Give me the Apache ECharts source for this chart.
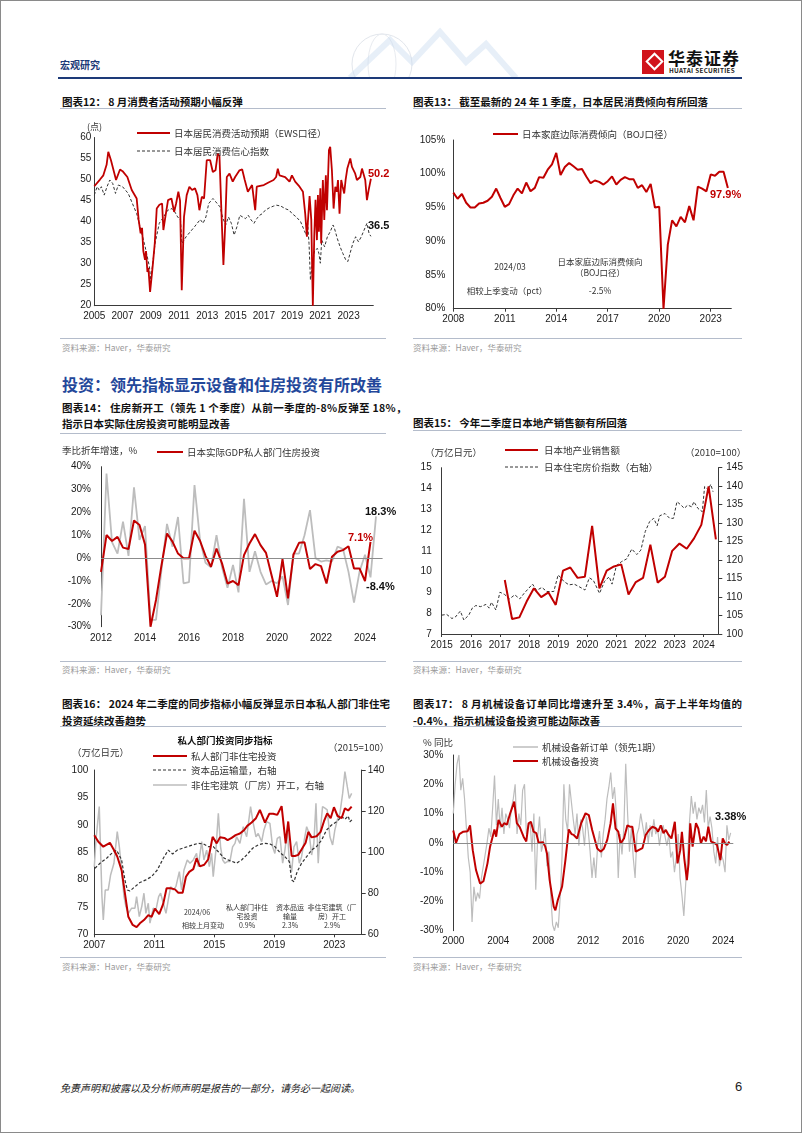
<!DOCTYPE html>
<html lang="zh">
<head>
<meta charset="utf-8">
<title>宏观研究</title>
<script src="https://cdn.jsdelivr.net/npm/echarts@6.0.0/dist/echarts.min.js"></script>
<style>
  html, body { margin: 0; padding: 0; background: #fff; }
  #page { position: relative; width: 802px; height: 1133px; overflow: hidden; font-family: "Noto Sans CJK SC", sans-serif; }
  #frame { position: absolute; left: 0; top: 0; width: 800px; height: 1131px; border: 1px solid #8a8a8a; }
  #chart { position: absolute; left: 0; top: 0; width: 802px; height: 1133px; }
  .txt { position: absolute; white-space: nowrap; }
  .ttl { position: absolute; font-size: 10.5px; font-weight: 700; color: #111; line-height: 14px; white-space: nowrap; }
  .jst { white-space: normal; text-align: justify; text-align-last: justify; }
  .rule { position: absolute; height: 1px; background: #b4bccb; }
  .src { position: absolute; font-size: 8.5px; color: #9a9a9a; line-height: 12px; white-space: nowrap; }
</style>
</head>
<body>
<div id="page">
  <div id="frame"></div>

  <!-- 页眉 -->
  <svg style="position:absolute;left:290px;top:22px" width="230" height="56">
    <circle cx="92" cy="42" r="30" fill="none" stroke="#e2e6ec" stroke-width="1"/>
    <ellipse cx="92" cy="42" rx="14" ry="30" fill="none" stroke="#e8ebf0" stroke-width="1"/>
    <polyline points="60,56 100,18 122,40 150,10 176,40 196,22 226,56" fill="none" stroke="#c9dbf0" stroke-width="6" opacity="0.45"/>
  </svg>
  <div class="txt" style="left:60px;top:58px;font-size:10px;font-weight:700;color:#1d3a78;line-height:14px">宏观研究</div>
  <div style="position:absolute;left:58px;top:77px;width:684px;height:2px;background:#1d3a78"></div>
  <div style="position:absolute;left:642px;top:50px;width:22px;height:24px;background:#d1131b"></div>
  <div style="position:absolute;left:648px;top:55px;width:9px;height:9px;border:2px solid #fff;transform:rotate(45deg)"></div>
  <div class="txt" style="left:668px;top:48px;font-size:17px;font-weight:700;color:#111;line-height:20px;letter-spacing:1px">华泰证券</div>
  <div class="txt" style="left:669px;top:67px;font-size:6.3px;font-weight:700;color:#222;line-height:8px;letter-spacing:0.3px">HUATAI SECURITIES</div>

  <!-- 图表标题 -->
  <div class="ttl" style="left:62px;top:94.5px">图表12： 8 月消费者活动预期小幅反弹</div>
  <div class="rule" style="left:60px;top:108px;width:326px"></div>
  <div class="ttl" style="left:413px;top:94.5px">图表13： 截至最新的 24 年 1 季度，日本居民消费倾向有所回落</div>
  <div class="rule" style="left:413px;top:108px;width:329px"></div>
  <div class="rule" style="left:60px;top:338px;width:326px"></div>
  <div class="src" style="left:62px;top:341px">资料来源：Haver，华泰研究</div>
  <div class="rule" style="left:413px;top:338px;width:329px"></div>
  <div class="src" style="left:413px;top:341px">资料来源：Haver，华泰研究</div>

  <div class="txt" style="left:62px;top:374px;font-size:16px;font-weight:700;color:#23479a;line-height:20px">投资：领先指标显示设备和住房投资有所改善</div>

  <div class="ttl" style="left:62px;top:401px;letter-spacing:0.3px">图表14： 住房新开工（领先 1 个季度）从前一季度的-8%反弹至 18%，</div>
  <div class="ttl" style="left:62px;top:417px">指示日本实际住房投资可能明显改善</div>
  <div class="rule" style="left:60px;top:433px;width:326px"></div>
  <div class="ttl" style="left:413px;top:416px">图表15： 今年二季度日本地产销售额有所回落</div>
  <div class="rule" style="left:413px;top:430px;width:329px"></div>
  <div class="rule" style="left:60px;top:661px;width:326px"></div>
  <div class="src" style="left:62px;top:663px">资料来源：Haver，华泰研究</div>
  <div class="rule" style="left:413px;top:661px;width:329px"></div>
  <div class="src" style="left:413px;top:663px">资料来源：Haver，华泰研究</div>

  <div class="ttl jst" style="left:62px;top:697px;width:328px">图表16： 2024 年二季度的同步指标小幅反弹显示日本私人部门非住宅</div>
  <div class="ttl" style="left:62px;top:714px">投资延续改善趋势</div>
  <div class="rule" style="left:60px;top:726px;width:326px"></div>
  <div class="ttl jst" style="left:413px;top:697px;width:329px">图表17： 8 月机械设备订单同比增速升至 3.4%，高于上半年均值的</div>
  <div class="ttl" style="left:413px;top:714px">-0.4%，指示机械设备投资可能边际改善</div>
  <div class="rule" style="left:413px;top:726px;width:329px"></div>
  <div class="rule" style="left:60px;top:956.5px;width:326px"></div>
  <div class="src" style="left:62px;top:960px">资料来源：Haver，华泰研究</div>
  <div class="rule" style="left:413px;top:956.5px;width:329px"></div>
  <div class="src" style="left:413px;top:960px">资料来源：Haver，华泰研究</div>

  <!-- 页脚 -->
  <div class="txt" style="left:60px;top:1081px;font-size:10px;font-style:italic;color:#222;line-height:14px">免责声明和披露以及分析师声明是报告的一部分，请务必一起阅读。</div>
  <div class="txt" style="left:735px;top:1079px;font-size:13px;color:#222;line-height:16px;font-family:'Liberation Sans',Arial,sans-serif">6</div>

  <div id="chart"></div>
</div>

<script>
// ---- 图表12：消费者活动预期 ----
const c12Years = [2005, 2007, 2009, 2011, 2013, 2015, 2017, 2019, 2021, 2023];
const ewsOutlook = [[2005.0,48.4],[2005.4,50.0],[2005.64,51],[2005.87,53.5],[2005.99,56.6],[2006.18,54.6],[2006.54,49.9],[2006.82,52.4],[2007.0,52.0],[2007.34,50.6],[2007.65,47.5],[2008.0,45.5],[2008.14,40.4],[2008.28,37.2],[2008.38,38.5],[2008.47,33],[2008.59,30.9],[2008.66,33],[2008.76,28],[2008.83,29],[2008.95,23.3],[2009.13,29.3],[2009.28,34.8],[2009.42,43.1],[2009.61,44],[2009.8,44.3],[2009.89,38],[2010.03,41.1],[2010.22,45.1],[2010.46,45.5],[2010.65,42.3],[2010.79,44.3],[2010.95,47.1],[2011.07,45],[2011.19,23.7],[2011.35,41.1],[2011.54,46.3],[2011.73,48.3],[2011.92,47.5],[2012.13,47.9],[2012.3,46.3],[2012.44,42.7],[2012.61,45.9],[2012.77,45.5],[2012.96,54.6],[2013.2,54.6],[2013.39,51.8],[2013.58,52.2],[2013.74,56.2],[2013.86,55.6],[2014.02,40.4],[2014.14,29.7],[2014.26,38.8],[2014.38,50.6],[2014.57,51.4],[2014.8,49.5],[2014.97,50.6],[2015.28,52.2],[2015.47,52.4],[2015.65,49.9],[2015.87,47.1],[2016.17,48.7],[2016.39,42.7],[2016.5,48.3],[2016.74,48.5],[2017.0,48.7],[2017.33,49.3],[2017.69,49.9],[2017.87,50.6],[2017.99,52.6],[2018.11,51],[2018.51,50.6],[2018.82,49.5],[2018.99,51],[2019.22,49.5],[2019.53,48.3],[2019.77,47.1],[2019.93,41.9],[2020.05,36.4],[2020.24,46.1],[2020.36,40.4],[2020.47,20],[2020.57,36.4],[2020.66,45.2],[2020.76,35.6],[2020.83,46.3],[2020.9,37.6],[2021.0,47.9],[2021.06,34.8],[2021.18,49.9],[2021.28,40.4],[2021.39,51],[2021.47,42.7],[2021.61,57],[2021.7,57.8],[2021.82,52.2],[2021.94,43.1],[2022.06,48.3],[2022.17,47.1],[2022.25,49.9],[2022.36,41.9],[2022.48,49.9],[2022.58,48.3],[2022.69,46.7],[2022.79,49.9],[2022.91,52.6],[2023.12,55],[2023.24,53],[2023.36,52.6],[2023.47,51.4],[2023.59,49.9],[2023.71,50.3],[2023.83,50.6],[2023.95,52.6],[2024.06,52.6],[2024.18,49.9],[2024.3,45.1],[2024.42,47.5],[2024.58,50.2]];
const consumerConf = [[2005.0,46.3],[2005.2,48.3],[2005.35,47.5],[2005.5,48.3],[2005.7,46.3],[2005.9,48.3],[2006.1,49.9],[2006.3,49.1],[2006.5,46.7],[2006.7,48.7],[2007.0,48.3],[2007.2,47.5],[2007.4,46.7],[2007.7,44.3],[2008.0,41.9],[2008.3,38],[2008.6,34],[2008.9,29.3],[2009.0,26.1],[2009.3,34.8],[2009.6,39.6],[2009.9,41.1],[2010.2,42.7],[2010.5,43.1],[2010.7,42.3],[2010.9,41.1],[2011.1,40.4],[2011.2,34.8],[2011.5,36.4],[2011.8,37.6],[2012.1,38.8],[2012.5,40.5],[2012.7,39.6],[2012.9,41.1],[2013.1,44.3],[2013.4,45.5],[2013.6,44.7],[2013.9,43.5],[2014.1,40.8],[2014.3,39.2],[2014.5,41.1],[2014.7,39.6],[2014.9,36.8],[2015.1,38.8],[2015.3,41.5],[2015.5,41.1],[2015.7,40.7],[2015.9,41.5],[2016.1,40.4],[2016.3,39.6],[2016.5,40.7],[2016.7,41.5],[2016.9,41.9],[2017.1,42.7],[2017.4,43.3],[2017.7,43.7],[2017.9,43.9],[2018.2,43.7],[2018.5,43.1],[2018.8,42.7],[2019.0,41.9],[2019.3,41.1],[2019.6,40],[2019.8,38.4],[2020.0,36.8],[2020.1,39.6],[2020.2,34.8],[2020.3,26.1],[2020.4,29.3],[2020.6,33.2],[2020.8,33.6],[2020.9,32.4],[2021.0,30.1],[2021.1,35.6],[2021.3,34],[2021.5,36.4],[2021.7,37.6],[2021.9,39.2],[2022.0,38.4],[2022.2,36],[2022.4,34],[2022.6,32.4],[2022.8,30.9],[2022.95,30.5],[2023.1,32.4],[2023.3,34.8],[2023.5,36.4],[2023.7,35.2],[2023.9,36.4],[2024.1,38],[2024.3,39.6],[2024.45,37.2],[2024.58,36.5]];

// ---- 图表13：家庭边际消费倾向（季度） ----
const c13Years = [2008, 2011, 2014, 2017, 2020, 2023];
const mpcStart = 2008;
const mpcQuarterly = [97.2,96.3,97.0,95.7,95.0,95.0,95.6,95.7,96.0,96.6,97.8,96.4,95.1,95.5,96.8,97.8,97.1,98.7,97.4,97.9,99.5,99.4,100.6,101.4,103.1,99.8,101.0,101.6,101.1,100.6,100.7,99.6,98.6,99.0,98.8,98.4,98.9,99.6,98.4,99.1,99.5,99.2,99.2,97.9,98.3,97.3,98.5,95.0,95.1,80.0,89.5,93.1,92.2,93.6,92.8,95.2,93.1,98.1,97.8,97.4,99.9,99.7,100.3,100.3,97.9];

// ---- 图表14：住房投资与新开工（季度） ----
const c14Years = [2012, 2014, 2016, 2018, 2020, 2022, 2024];
const resStart = 2012;
const resInvQuarterly = [-6.0,10.1,7.5,9.3,4.6,4.0,16.5,14.5,6.0,-30,-18.3,-3.1,10.8,7.2,2.0,-0.1,-0.1,12.0,7.6,1.0,-3.8,4.2,-2.3,-11.1,-10.0,-11.8,1.3,6.4,10.5,5.7,2.3,-7.4,-16.9,-0.4,-17.6,1.6,6.7,6.9,-4.8,-2.6,-3.5,-11.1,0.6,2.8,3.5,5.2,-4.5,-4.5,-10.0,7.1];
const startsQuarterly = [-25,37,7,2,16,1,31,8,14,-27,-27,-5,15,5,18,-11,-10.5,32,8,-2,-4,10,-4,-13,-3,-15,26,-6,3,-6,-11.5,-10,-11,-8,-20.5,2,2,10,21,0,-1.5,-1,-1.5,5,4,-6,-19.5,-6,1.5,-8.4,18.3];

// ---- 图表15：地产销售额与房价指数 ----
const c15Years = [2015, 2016, 2017, 2018, 2019, 2020, 2021, 2022, 2023, 2024];
const salesStart = 2017 + 2 / 12;
const salesQuarterly = [9.6,7.72,7.8,8.56,9.2,8.77,9.0,8.4,10.05,10.2,9.7,9.75,12.2,9.2,10.05,10.25,10.35,8.9,9.5,9.7,11.3,9.47,9.75,11.0,11.35,11.1,11.6,12.25,14.1,11.55];
const housePrice = [[2015.0,105.1],[2015.17,105.3],[2015.35,104.2],[2015.47,104.6],[2015.64,106.2],[2015.76,103.8],[2015.93,105.1],[2016.05,107],[2016.17,107.7],[2016.34,107.4],[2016.52,108],[2016.63,107],[2016.71,108.6],[2016.86,106.5],[2017.0,111.3],[2017.16,110.7],[2017.33,109.5],[2017.51,110.6],[2017.68,109.5],[2017.83,111],[2017.97,112.2],[2018.12,113.5],[2018.26,111.8],[2018.44,112.6],[2018.61,111.5],[2018.85,111.5],[2019.0,116],[2019.2,114.2],[2019.37,113.3],[2019.55,113.5],[2019.72,112.8],[2019.92,111.9],[2020.07,115.2],[2020.21,114.5],[2020.42,111],[2020.59,114.2],[2020.75,115.5],[2020.85,113.5],[2021.0,118.5],[2021.18,119.6],[2021.35,120.3],[2021.53,123],[2021.7,121.5],[2021.84,122.7],[2021.99,127.7],[2022.14,130.4],[2022.28,131.3],[2022.4,129.3],[2022.49,132],[2022.67,132.6],[2022.83,131.3],[2022.96,131.3],[2023.08,135.8],[2023.22,134.9],[2023.33,134],[2023.45,134.9],[2023.59,134.4],[2023.66,135.8],[2023.8,134],[2023.95,133.1],[2024.03,139.9],[2024.15,139],[2024.24,140.5],[2024.32,138.5]];

// ---- 图表16：私人部门投资同步指标 ----
const c16Years = [2007, 2011, 2015, 2019, 2023];
const nonResInv = [[2007.0,88.1],[2007.27,86.9],[2007.6,86.0],[2008.04,86.7],[2008.31,85.4],[2008.53,84.2],[2008.82,81.7],[2009.04,77.5],[2009.27,73.2],[2009.56,71.7],[2009.82,71.3],[2010.04,72.0],[2010.31,72.6],[2010.6,73.5],[2010.82,73.2],[2011.04,74.7],[2011.33,73.7],[2011.6,75.6],[2011.82,78.4],[2012.09,78.4],[2012.38,78.2],[2012.6,77.6],[2012.89,77.6],[2013.11,80.5],[2013.33,81.4],[2013.6,81.9],[2013.82,83.9],[2014.04,82.4],[2014.33,82.7],[2014.6,83.7],[2014.89,87.8],[2015.16,86.6],[2015.38,87.7],[2015.67,87.6],[2015.89,87.2],[2016.16,87.6],[2016.42,88.1],[2016.71,88.4],[2016.98,89.0],[2017.2,89.8],[2017.49,90.4],[2017.78,91.2],[2018.04,92.7],[2018.38,90.4],[2018.67,92.0],[2018.93,92.0],[2019.2,91.8],[2019.49,93.4],[2019.76,86.6],[2019.93,90.6],[2020.16,84.3],[2020.38,84.3],[2020.6,84.5],[2020.82,85.5],[2021.09,86.7],[2021.27,88.7],[2021.49,87.7],[2021.82,87.9],[2022.09,88.7],[2022.31,90.6],[2022.53,92.1],[2022.76,91.2],[2022.98,93.2],[2023.22,91.6],[2023.49,91.2],[2023.71,93.0],[2023.93,92.6],[2024.16,93.3]];
const capGoods = [[2007.04,92.1],[2007.38,94.6],[2007.82,97],[2008.16,99.4],[2008.49,101],[2008.82,96.2],[2009.04,86.5],[2009.2,81.6],[2009.38,81.1],[2009.71,83.2],[2010.04,85.2],[2010.44,86.5],[2010.82,88.1],[2011.2,91.3],[2011.6,97],[2011.93,101],[2012.22,99.1],[2012.53,101],[2012.89,101.9],[2013.22,102.7],[2013.56,103.5],[2013.93,104.3],[2014.27,104],[2014.6,102.7],[2014.93,102.7],[2015.27,100.2],[2015.67,97],[2016.04,95.9],[2016.49,94.6],[2016.82,96.2],[2017.16,98.6],[2017.56,101.9],[2017.93,103.5],[2018.31,104.3],[2018.71,104],[2019.04,102.7],[2019.38,99.8],[2019.71,97.8],[2020.0,95.4],[2020.16,86.5],[2020.31,85.6],[2020.53,90.5],[2020.82,94.6],[2021.16,97.8],[2021.49,101],[2021.82,102.7],[2022.16,105.9],[2022.49,110.8],[2022.82,113.2],[2023.16,114.8],[2023.49,117.3],[2023.71,116],[2023.93,117.6],[2024.04,114.8],[2024.22,116]];
const factoryStarts = [[2007.0,92.9],[2007.11,105.9],[2007.33,122.2],[2007.51,78.3],[2007.6,67],[2007.73,81.6],[2007.93,81.6],[2008.09,89],[2008.31,94.6],[2008.53,110],[2008.67,102.6],[2008.82,91.3],[2008.98,78.3],[2009.11,73.4],[2009.27,70.2],[2009.49,72.7],[2009.71,72.7],[2009.82,78.3],[2010.0,68.6],[2010.16,73.4],[2010.31,80],[2010.44,70.2],[2010.6,75.1],[2010.71,65.4],[2010.93,72.7],[2011.11,71.9],[2011.29,78.3],[2011.42,80],[2011.6,75.1],[2011.78,70.2],[2011.93,76.7],[2012.09,83.2],[2012.27,81.6],[2012.44,83.2],[2012.67,90.5],[2012.82,81.6],[2012.98,91.3],[2013.2,96.2],[2013.38,94.6],[2013.6,96.2],[2013.82,99.4],[2013.93,92.9],[2014.16,105.1],[2014.31,96.2],[2014.49,101],[2014.67,92.9],[2014.82,99.4],[2014.93,88.1],[2015.11,101],[2015.27,118.9],[2015.42,102.6],[2015.56,96.2],[2015.71,94.6],[2015.87,95.4],[2016.04,95.4],[2016.22,102.6],[2016.38,104.3],[2016.49,107.5],[2016.71,104.3],[2016.93,112.4],[2017.16,107.5],[2017.42,122.2],[2017.6,114],[2017.78,107.5],[2017.93,109.1],[2018.16,105.1],[2018.31,110.8],[2018.49,114.8],[2018.71,114],[2018.89,102.6],[2019.04,99.4],[2019.2,106.7],[2019.38,107.5],[2019.56,94.6],[2019.71,101],[2019.87,110.8],[2020.0,96.2],[2020.16,90.5],[2020.31,102.6],[2020.49,105.1],[2020.67,94.6],[2020.82,97.8],[2021.0,105.9],[2021.16,112.4],[2021.33,109.1],[2021.49,98.6],[2021.64,104.3],[2021.78,123.8],[2021.93,94.6],[2022.04,107.5],[2022.22,122.2],[2022.38,121.4],[2022.53,120.6],[2022.71,107.5],[2022.89,103.5],[2023.04,110.8],[2023.2,115.7],[2023.38,119],[2023.56,128.6],[2023.71,139.2],[2023.87,131.9],[2024.0,126.2],[2024.16,128.6]];

// ---- 图表17：机械设备订单与投资 ----
const c17Years = [2000, 2004, 2008, 2012, 2016, 2020, 2024];
const ordersStart = 2000;
const ordersBimonthly = [
  10, 20, 27, 30, 18, 22,   15, 5, -5, -10, -27, -15,   -20, -17, -19, -12, -8, -4,
  0, 5, 2, 12, 23, 6,       15, 5, 12, 3, 10, 8,        5, 12, 15, 20, 3, 10,
  6, 18, 20, 3, 6, 7,       -3, 10, -16, 2, 9, -3,      0, 5, -8, -3, -18, -28,
  -30, -27, -29, -19, -5, 20,  8, 4, 20, 14, 8, 3,      10, -1, 8, 5, -1, 9,
  4, -3, -12, -5, -12, -1,  4, -5, 3, 8, 15, 19,        24, 15, 19, 10, -12, 3,
  -4, 5, 27, 10, -3, 5,     -5, -12, 3, 5, 10, 6,       2, 7, 0, 6, 2, 8,
  3, 5, -1, 4, 6, 2,        -1, 3, -5, -3, -10, -5,     3, -12, -18, -25, -14, -5,
  7, 16, 10, 14, 8, 12,     10, 13, 7, 18, 5, 9,        5, -3, -7, 2, -8, -4,
  -6, -10, 6, 1, 3.38
];
const machineryInv = [[2000.0,4.2],[2000.24,0],[2000.54,3],[2000.89,3.8],[2001.28,4.0],[2001.49,6.0],[2001.73,-2.5],[2002.02,-9.3],[2002.38,-13.9],[2002.68,-13.1],[2003.04,-7.0],[2003.27,-1.3],[2003.66,4.6],[2003.81,2.1],[2004.02,7.8],[2004.32,5.5],[2004.52,6.7],[2004.76,6.2],[2005.06,10.1],[2005.42,14.1],[2005.65,6.7],[2005.89,5.5],[2006.25,2.1],[2006.49,0.5],[2006.7,6.7],[2006.9,7.2],[2007.14,3.8],[2007.38,3.3],[2007.59,0],[2007.98,0.2],[2008.18,-1.3],[2008.33,-3.6],[2008.57,-12.7],[2008.93,-21.8],[2009.08,-23],[2009.29,-19.6],[2009.67,-15],[2009.97,-5.9],[2010.27,4.6],[2010.51,3.0],[2010.71,2.7],[2011.01,1.5],[2011.37,6.7],[2011.76,10.1],[2012.05,9.5],[2012.35,4.4],[2012.8,-1.9],[2013.1,-3.0],[2013.39,-2.0],[2013.69,1.0],[2013.99,6.7],[2014.2,13.5],[2014.43,4.9],[2014.67,3.8],[2014.88,-0.2],[2015.18,1.5],[2015.48,6.0],[2015.71,5.5],[2015.92,5.5],[2016.22,-3.0],[2016.52,-2.4],[2016.82,-1.8],[2017.11,2.7],[2017.41,4.4],[2017.71,5.5],[2018.01,5.0],[2018.21,3.8],[2018.45,6.0],[2018.69,3.3],[2018.9,4.4],[2019.14,2.7],[2019.4,1.5],[2019.7,7.2],[2019.94,-7.0],[2020.18,-2.5],[2020.33,3.8],[2020.54,-5.3],[2020.77,-12.7],[2020.92,-7],[2021.07,6.7],[2021.28,-1.3],[2021.43,-1.0],[2021.58,6.7],[2021.79,4.9],[2022.02,-0.2],[2022.26,2.1],[2022.47,0.5],[2022.68,5.5],[2022.92,0.4],[2023.21,0],[2023.45,-0.7],[2023.75,-5.9],[2023.96,1.5],[2024.17,-0.2],[2024.35,-0.7],[2024.55,0.4]];

// 季度/双月序列按起点和步长排成 [年份, 数值]
const stepped = (start, step, vals) => vals.map((v, i) => [start + i * step, v]);

const RED = '#c00000';
const GREY = '#bdbdbd';
const AXIS = '#3a3a3a';
const LBL = '#1a1a1a';
const CN = '"Noto Sans CJK SC", sans-serif';
const NUM = '"Liberation Sans", Arial, sans-serif';

function xAx(grid, min, max, years, opts = {}) {
  return {
    type: 'value', gridIndex: grid, min: min, max: max,
    axisLine: { show: opts.line !== false, onZero: false, lineStyle: { color: AXIS, width: 1 } },
    axisTick: { show: !!opts.ticks, customValues: years, length: 3, inside: false, lineStyle: { color: AXIS } },
    axisLabel: { customValues: years, formatter: v => String(Math.round(v)), color: LBL, fontSize: 10, fontFamily: NUM, margin: opts.margin || 6 },
    splitLine: { show: false }
  };
}

function yAx(grid, min, max, interval, opts = {}) {
  return {
    type: 'value', gridIndex: grid, min: min, max: max, interval: interval,
    position: opts.right ? 'right' : 'left',
    axisLine: { show: true, onZero: false, lineStyle: { color: AXIS, width: 1 } },
    axisTick: { show: !!opts.ticks, length: 4, lineStyle: { color: AXIS } },
    axisLabel: { color: LBL, fontSize: 10, fontFamily: NUM, margin: opts.margin || 8, formatter: opts.pct ? (v => v + '%') : (v => String(v)) },
    splitLine: { show: false }
  };
}

function line(xi, yi, data, color, width, dash, extra) {
  return Object.assign({
    type: 'line', xAxisIndex: xi, yAxisIndex: yi, data: data,
    symbol: 'none', showSymbol: false, silent: true, animation: false,
    lineStyle: { color: color, width: width, type: dash || 'solid' },
    itemStyle: { color: color }
  }, extra || {});
}

const zeroLine = {
  markLine: {
    silent: true, symbol: ['none', 'none'], label: { show: false }, animation: false,
    lineStyle: { color: '#8c8c8c', width: 1, type: 'solid' },
    data: [{ yAxis: 0 }]
  }
};

// 图形文字与图例
function txt(x, y, text, o) {
  o = o || {};
  const align = o.align || 'left';
  return {
    type: 'text', x: x, y: y, silent: true, z: 100,
    style: {
      text: text, font: o.font || ('9.5px ' + CN), fill: o.color || '#333',
      align: align, verticalAlign: 'middle', textAlign: align, textVerticalAlign: 'middle'
    }
  };
}
function seg(x1, x2, y, color, width, dash) {
  return {
    type: 'line', silent: true, z: 100,
    shape: { x1: x1, y1: y, x2: x2, y2: y },
    style: { stroke: color, lineWidth: width, lineDash: dash || null }
  };
}
const BOLD = 'bold 11px ' + NUM;
const TINY = '7px ' + CN;

const graphics = [
  // 图表12
  txt(94.5, 127, '(点)', { align: 'center', font: '9px ' + CN }),
  seg(137, 170, 133, RED, 2), txt(174, 133, '日本居民消费活动预期（EWS口径）'),
  seg(137, 170, 151, '#333', 1, [3, 2]), txt(174, 151, '日本居民消费信心指数'),
  txt(368, 174, '50.2', { font: BOLD, color: RED }),
  txt(368, 226, '36.5', { font: BOLD, color: '#111' }),
  // 图表13
  seg(493, 518, 134, RED, 2), txt(522, 134, '日本家庭边际消费倾向（BOJ口径）'),
  txt(710, 195, '97.9%', { font: BOLD, color: RED }),
  txt(510, 267, '2024/03', { align: 'center', font: '8.5px ' + CN }),
  txt(600, 262, '日本家庭边际消费倾向', { align: 'center', font: '8.5px ' + CN }),
  txt(600, 273, '（BOJ口径）', { align: 'center', font: '8.5px ' + CN }),
  txt(507, 291, '相较上季变动（pct）', { align: 'center', font: '8.5px ' + CN }),
  txt(600, 291, '-2.5%', { align: 'center', font: '8.5px ' + CN }),
  // 图表14
  txt(62, 450, '季比折年增速，%'),
  seg(157, 183, 452, RED, 2), txt(187, 452, '日本实际GDP私人部门住房投资'),
  txt(365, 512, '18.3%', { font: BOLD, color: '#111' }),
  txt(348, 538, '7.1%', { font: BOLD, color: RED }),
  txt(366, 587, '-8.4%', { font: BOLD, color: '#111' }),
  // 图表15
  txt(425, 452, '（万亿日元）'),
  txt(685, 452, '（2010=100）'),
  seg(505, 538, 450, RED, 2), txt(544, 450, '日本地产业销售额'),
  seg(505, 538, 467, '#333', 1, [3, 2]), txt(544, 467, '日本住宅房价指数（右轴）'),
  // 图表16
  txt(225, 740, '私人部门投资同步指标', { align: 'center', font: 'bold 9.5px ' + CN, color: '#111' }),
  txt(72, 752, '（万亿日元）'),
  txt(328, 747, '（2015=100）'),
  seg(153, 187, 756, RED, 2), txt(191, 756, '私人部门非住宅投资'),
  seg(153, 187, 770, '#333', 1.2, [3, 2]), txt(191, 770, '资本品运输量，右轴'),
  seg(153, 187, 785, GREY, 1.5), txt(191, 785, '非住宅建筑（厂房）开工，右轴'),
  txt(197, 912, '2024/06', { align: 'center', font: TINY }),
  txt(203, 925, '相较上月变动', { align: 'center', font: TINY }),
  txt(247, 907, '私人部门非住', { align: 'center', font: TINY }),
  txt(247, 916, '宅投资', { align: 'center', font: TINY }),
  txt(247, 925, '0.9%', { align: 'center', font: TINY }),
  txt(290, 907, '资本品运', { align: 'center', font: TINY }),
  txt(290, 916, '输量', { align: 'center', font: TINY }),
  txt(290, 925, '2.3%', { align: 'center', font: TINY }),
  txt(332, 907, '非住宅建筑（厂', { align: 'center', font: TINY }),
  txt(332, 916, '房）开工', { align: 'center', font: TINY }),
  txt(332, 925, '2.9%', { align: 'center', font: TINY }),
  // 图表17
  txt(423, 742, '% 同比'),
  seg(513, 538, 747, GREY, 1.5), txt(542, 747, '机械设备新订单（领先1期）'),
  seg(513, 538, 761, RED, 2), txt(542, 761, '机械设备投资'),
  txt(715, 817, '3.38%', { font: BOLD, color: '#111' })
];

const chart = echarts.init(document.getElementById('chart'), null, { renderer: 'canvas' });

chart.setOption({
  animation: false,
  backgroundColor: 'transparent',
  textStyle: { fontFamily: NUM },
  grid: [
    { left: 94.3, top: 137.5, width: 279, height: 168.2, outerBoundsMode: 'none' },
    { left: 453.3, top: 140, width: 278, height: 168.7, outerBoundsMode: 'none' },
    { left: 101, top: 466.7, width: 281.6, height: 160, outerBoundsMode: 'none' },
    { left: 441.7, top: 467.7, width: 276.6, height: 166.3, outerBoundsMode: 'none' },
    { left: 94.3, top: 770, width: 267.4, height: 164.3, outerBoundsMode: 'none' },
    { left: 453.3, top: 755, width: 280, height: 175.7, outerBoundsMode: 'none' }
  ],
  xAxis: [
    xAx(0, 2005, 2024.75, c12Years, { margin: 6 }),
    xAx(1, 2008, 2024.2, c13Years, { ticks: true, margin: 6 }),
    xAx(2, 2012, 2024.8, c14Years, { line: false, margin: 7 }),
    xAx(3, 2015, 2024.5, c15Years, { ticks: true, margin: 6 }),
    xAx(4, 2007, 2024.83, c16Years, { ticks: true, margin: 6 }),
    xAx(5, 2000, 2024.9, c17Years, { line: false, margin: 6 })
  ],
  yAxis: [
    yAx(0, 20, 60, 5, { margin: 3 }),
    yAx(1, 80, 105, 5, { pct: true, margin: 8 }),
    yAx(2, -30, 40, 10, { pct: true, margin: 10 }),
    yAx(3, 7, 15, 1, { margin: 10 }),
    yAx(3, 100, 145, 5, { right: true, ticks: true, margin: 8 }),
    yAx(4, 70, 100, 5, { margin: 6 }),
    yAx(4, 60, 140, 20, { right: true, ticks: true, margin: 6 }),
    yAx(5, -30, 30, 10, { pct: true, margin: 10 })
  ],
  series: [
    line(0, 0, consumerConf, '#333', 1, [3, 2]),
    line(0, 0, ewsOutlook, RED, 1.8),
    line(1, 1, stepped(mpcStart, 0.25, mpcQuarterly), RED, 2),
    line(2, 2, stepped(resStart, 0.25, startsQuarterly), GREY, 1.8, null, zeroLine),
    line(2, 2, stepped(resStart, 0.25, resInvQuarterly), RED, 2),
    line(3, 4, housePrice, '#333', 1, [3, 2]),
    line(3, 3, stepped(salesStart, 0.25, salesQuarterly), RED, 2),
    line(4, 6, factoryStarts, GREY, 1.5),
    line(4, 6, capGoods, '#333', 1.2, [3, 2]),
    line(4, 5, nonResInv, RED, 2),
    line(5, 7, stepped(ordersStart, 1 / 6, ordersBimonthly), GREY, 1.2, null, zeroLine),
    line(5, 7, machineryInv, RED, 2)
  ],
  graphic: { elements: graphics }
});
</script>
</body>
</html>
